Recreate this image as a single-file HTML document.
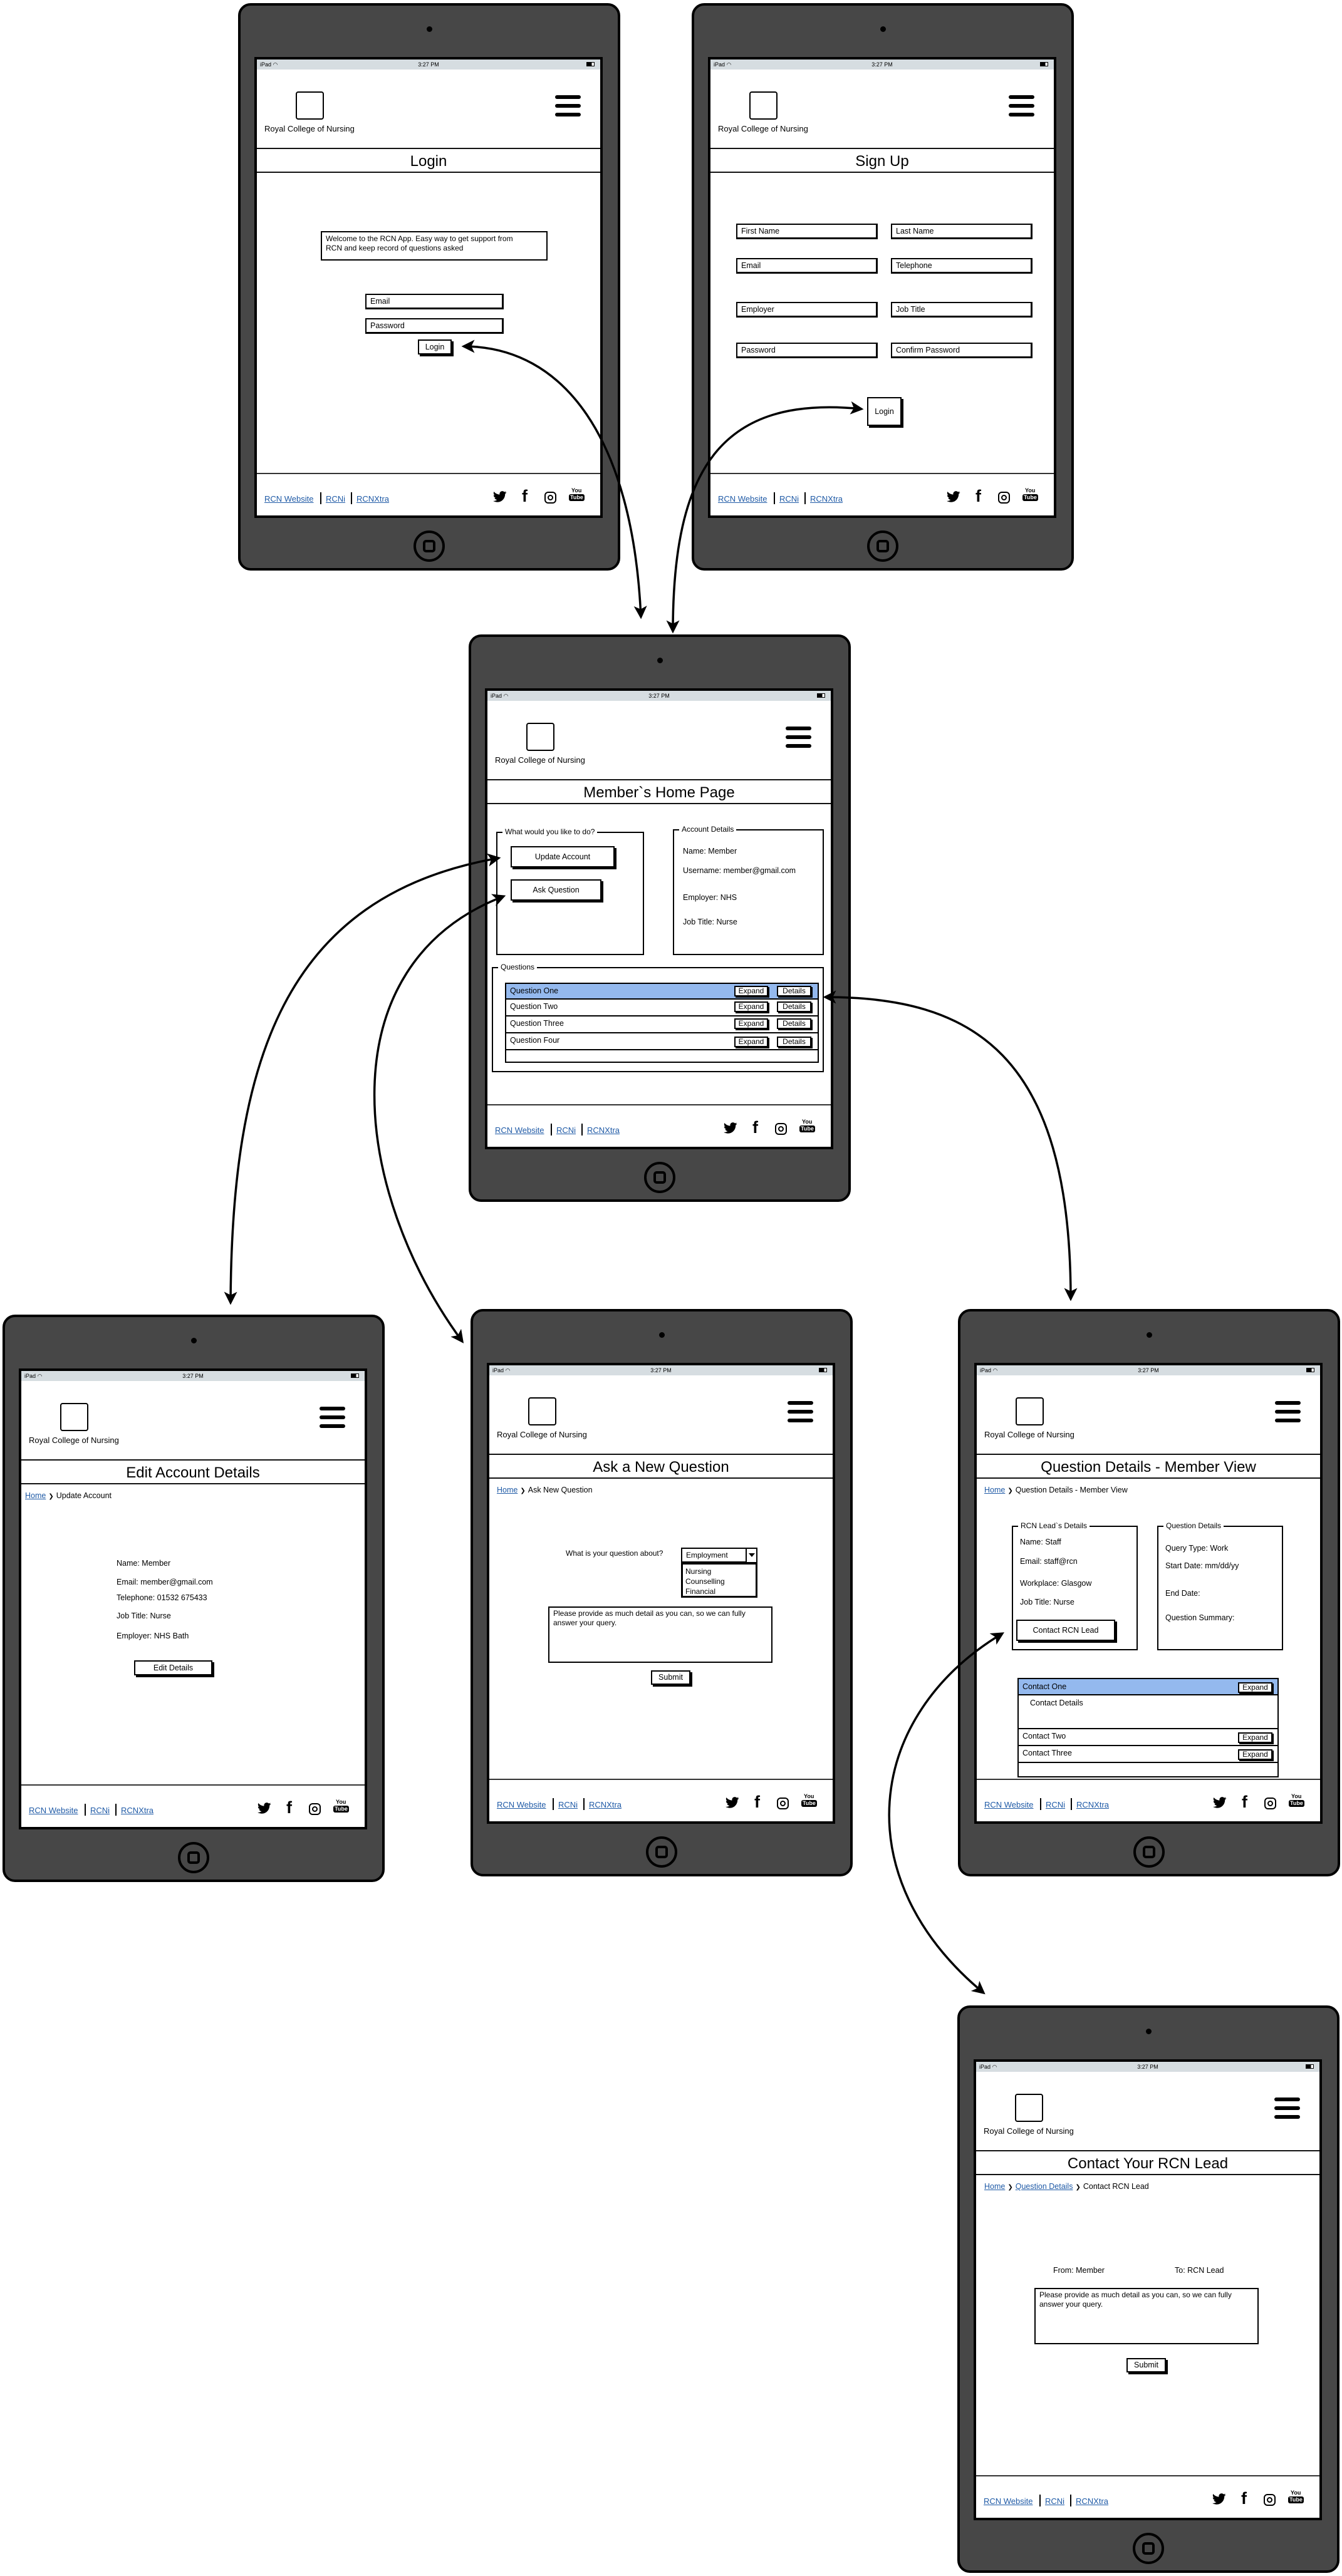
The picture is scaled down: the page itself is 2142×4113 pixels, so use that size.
<!DOCTYPE html>
<html><head><meta charset="utf-8">
<style>
html,body{margin:0;padding:0;background:#fff}
body{width:2142px;height:4113px;position:relative;overflow:hidden;font-family:"Liberation Sans",Arial,sans-serif;color:#000}
.t{position:absolute;width:610px;height:906px}
.t>*{position:absolute}
.fr{left:0;top:0;width:610px;height:906px;box-sizing:border-box;border:4px solid #000;border-radius:20px;background:#474747}
.cam{left:301px;top:37px;width:9px;height:9px;border-radius:50%;background:#000}
.scr{left:26px;top:86px;width:556px;height:736px;box-sizing:border-box;border:4px solid #000;background:#fff}
.sb{left:30px;top:90px;width:548px;height:16px;background:#d6dde1}
.sbl{left:35px;top:91px;font-size:9px;line-height:14px}
.sbt{left:30px;top:91px;width:548px;text-align:center;font-size:9px;line-height:14px}
.bat{left:556px;top:94px;width:11px;height:5px;border:1px solid #000;background:linear-gradient(90deg,#000 70%,#fff 70%)}
.lg{left:92px;top:141px;width:45px;height:45px;box-sizing:border-box;border:2px solid #000;border-radius:4px}
.rcn{left:42px;top:193px;font-size:13px;line-height:16px;white-space:nowrap}
.hm{left:506px;width:41px;height:6px;border-radius:3px;background:#000}
.ln{left:30px;width:548px;height:2px;background:#111}
.ttl{left:30px;top:237px;width:548px;height:32px;line-height:32px;text-align:center;font-size:24px;white-space:nowrap}
.ln2{left:30px;width:548px;height:1.5px;background:#333}
.lk{top:784px;font-size:13px;line-height:16px;color:#1f5aa6;text-decoration:underline;white-space:nowrap}
.sp{top:781px;width:2px;height:19px;background:#000}
.fb{left:453px;top:772px;font-size:27px;font-weight:bold;line-height:30px}
.ig{left:489px;top:780px;width:19px;height:19px;box-sizing:border-box;border:2.5px solid #000;border-radius:6px}
.ig::after{content:"";position:absolute;left:3px;top:3px;width:5px;height:5px;border:2.5px solid #000;border-radius:50%}
.yt1{left:532px;top:773px;font-size:9px;font-weight:bold;line-height:10px}
.yt2{left:528px;top:784px;font-size:9px;font-weight:bold;line-height:11px;background:#000;color:#fff;padding:0 2px;border-radius:3px}
.hb{left:280px;top:842px;width:50px;height:50px;box-sizing:border-box;border:4px solid #000;border-radius:50%}
.hbi{left:295px;top:857px;width:20px;height:20px;box-sizing:border-box;border:4px solid #000;border-radius:5px}
.tx{font-size:12.5px;line-height:16px;white-space:nowrap}
.bt{box-sizing:border-box;border:2px solid #000;box-shadow:3px 3px 0 #000;background:#fff;text-align:center;font-size:12.5px;white-space:nowrap}
.in{box-sizing:border-box;border:2px solid #000;border-right-width:3px;border-bottom-width:3px;font-size:12.5px;padding-left:6px;white-space:nowrap;background:#fff}
.fs{box-sizing:border-box;border:2px solid #000}
.lgd{position:absolute;top:-10px;left:8px;background:#fff;padding:0 4px;font-size:12px;line-height:16px;white-space:nowrap}
.bc{left:36px;font-size:12.5px;line-height:16px;white-space:nowrap}
.bc u{color:#1f5aa6}
.bc b{font-family:"DejaVu Sans",sans-serif;font-size:10px;margin:0 4px}
.row{box-sizing:border-box;border:2px solid #000;border-top:none;font-size:12.5px;white-space:nowrap;padding-left:6px;background:#fff}
.sm{position:absolute;top:3px;height:17px;box-sizing:border-box;border:2px solid #000;box-shadow:2px 2px 0 #000;font-size:12px;line-height:13px;text-align:center;background:#fff}
</style></head><body>

<!-- LOGIN -->
<div class="t" style="left:380px;top:5px">
<div class="fr"></div><div class="cam"></div><div class="scr"></div><div class="sb"></div><div class="sbl">iPad ◠</div><div class="sbt">3:27 PM</div><div class="bat"></div><div class="lg"></div><div class="rcn">Royal College of Nursing</div><div class="hm" style="top:147px"></div><div class="hm" style="top:161px"></div><div class="hm" style="top:175px"></div><div class="ln" style="top:231px"></div><div class="ln" style="top:269px"></div>
<div class="ttl">Login</div>
<div class="ln2" style="top:750px"></div><div class="lk" style="left:42px">RCN Website</div><div class="sp" style="left:131px"></div><div class="lk" style="left:140px">RCNi</div><div class="sp" style="left:180px"></div><div class="lk" style="left:189px">RCNXtra</div>
<svg style="left:407px;top:779px" width="22" height="18" viewBox="0 0 24 20"><path d="M23.5 2.4c-.9.4-1.8.6-2.8.8 1-.6 1.8-1.6 2.100-2.700-.9.6-2 1-3.100 1.200C18.800.7 17.600.2 16.200.2c-2.700 0-4.900 2.200-4.900 4.900 0 .4 0 .8.1 1.100C7.400 6 3.800 4.100 1.400 1.100 1 1.800.7 2.700.7 3.600c0 1.700.9 3.200 2.200 4.100-.8 0-1.600-.2-2.200-.6v.1c0 2.400 1.700 4.400 3.900 4.800-.4.1-.8.2-1.300.2-.3 0-.6 0-.9-.1.6 1.900 2.400 3.400 4.600 3.400-1.700 1.300-3.800 2.100-6.100 2.100-.4 0-.8 0-1.200-.1 2.200 1.400 4.800 2.200 7.500 2.200 9 0 13.900-7.500 13.900-13.900v-.6c1-.7 1.800-1.600 2.400-2.600z"/></svg>
<div class="fb">f</div><div class="ig"></div><div class="yt1">You</div><div class="yt2">Tube</div>
<div class="hb"></div><div class="hbi"></div>
<div class="fs" style="left:132px;top:364px;width:362px;height:47px"></div>
<div class="tx" style="left:140px;top:369px;font-size:12px;line-height:15px">Welcome to the RCN App. Easy way to get support from<br>RCN and keep record of questions asked</div>
<div class="in" style="left:203px;top:464px;width:221px;height:25px;line-height:20px">Email</div>
<div class="in" style="left:203px;top:503px;width:221px;height:25px;line-height:20px">Password</div>
<div class="bt" style="left:287px;top:537px;width:54px;height:24px;line-height:20px">Login</div>
</div>

<!-- SIGN UP -->
<div class="t" style="left:1104px;top:5px">
<div class="fr"></div><div class="cam"></div><div class="scr"></div><div class="sb"></div><div class="sbl">iPad ◠</div><div class="sbt">3:27 PM</div><div class="bat"></div><div class="lg"></div><div class="rcn">Royal College of Nursing</div><div class="hm" style="top:147px"></div><div class="hm" style="top:161px"></div><div class="hm" style="top:175px"></div><div class="ln" style="top:231px"></div><div class="ln" style="top:269px"></div>
<div class="ttl">Sign Up</div>
<div class="ln2" style="top:750px"></div><div class="lk" style="left:42px">RCN Website</div><div class="sp" style="left:131px"></div><div class="lk" style="left:140px">RCNi</div><div class="sp" style="left:180px"></div><div class="lk" style="left:189px">RCNXtra</div>
<svg style="left:407px;top:779px" width="22" height="18" viewBox="0 0 24 20"><path d="M23.5 2.4c-.9.4-1.8.6-2.8.8 1-.6 1.8-1.6 2.100-2.700-.9.6-2 1-3.100 1.200C18.800.7 17.600.2 16.200.2c-2.700 0-4.900 2.200-4.900 4.900 0 .4 0 .8.1 1.100C7.400 6 3.800 4.100 1.400 1.100 1 1.800.7 2.700.7 3.600c0 1.700.9 3.200 2.200 4.100-.8 0-1.600-.2-2.200-.6v.1c0 2.400 1.700 4.400 3.900 4.800-.4.1-.8.2-1.300.2-.3 0-.6 0-.9-.1.6 1.900 2.400 3.400 4.600 3.400-1.700 1.300-3.800 2.100-6.100 2.100-.4 0-.8 0-1.200-.1 2.200 1.400 4.800 2.200 7.500 2.200 9 0 13.900-7.500 13.900-13.900v-.6c1-.7 1.800-1.600 2.400-2.600z"/></svg>
<div class="fb">f</div><div class="ig"></div><div class="yt1">You</div><div class="yt2">Tube</div>
<div class="hb"></div><div class="hbi"></div>
<div class="in" style="left:71px;top:352px;width:226px;height:25px;line-height:20px">First Name</div>
<div class="in" style="left:318px;top:352px;width:226px;height:25px;line-height:20px">Last Name</div>
<div class="in" style="left:71px;top:407px;width:226px;height:25px;line-height:20px">Email</div>
<div class="in" style="left:318px;top:407px;width:226px;height:25px;line-height:20px">Telephone</div>
<div class="in" style="left:71px;top:477px;width:226px;height:25px;line-height:20px">Employer</div>
<div class="in" style="left:318px;top:477px;width:226px;height:25px;line-height:20px">Job Title</div>
<div class="in" style="left:71px;top:542px;width:226px;height:25px;line-height:20px">Password</div>
<div class="in" style="left:318px;top:542px;width:226px;height:25px;line-height:20px">Confirm Password</div>
<div class="bt" style="left:280px;top:629px;width:55px;height:46px;line-height:42px">Login</div>
</div>

<!-- HOME -->
<div class="t" style="left:748px;top:1013px">
<div class="fr"></div><div class="cam"></div><div class="scr"></div><div class="sb"></div><div class="sbl">iPad ◠</div><div class="sbt">3:27 PM</div><div class="bat"></div><div class="lg"></div><div class="rcn">Royal College of Nursing</div><div class="hm" style="top:147px"></div><div class="hm" style="top:161px"></div><div class="hm" style="top:175px"></div><div class="ln" style="top:231px"></div><div class="ln" style="top:269px"></div>
<div class="ttl">Member`s Home Page</div>
<div class="ln2" style="top:750px"></div><div class="lk" style="left:42px">RCN Website</div><div class="sp" style="left:131px"></div><div class="lk" style="left:140px">RCNi</div><div class="sp" style="left:180px"></div><div class="lk" style="left:189px">RCNXtra</div>
<svg style="left:407px;top:779px" width="22" height="18" viewBox="0 0 24 20"><path d="M23.5 2.4c-.9.4-1.8.6-2.8.8 1-.6 1.8-1.6 2.100-2.700-.9.6-2 1-3.100 1.200C18.800.7 17.600.2 16.200.2c-2.700 0-4.900 2.200-4.900 4.900 0 .4 0 .8.1 1.100C7.400 6 3.800 4.100 1.400 1.100 1 1.800.7 2.700.7 3.600c0 1.700.9 3.200 2.200 4.100-.8 0-1.600-.2-2.200-.6v.1c0 2.400 1.700 4.400 3.900 4.800-.4.1-.8.2-1.300.2-.3 0-.6 0-.9-.1.6 1.900 2.400 3.400 4.600 3.400-1.700 1.300-3.800 2.100-6.100 2.100-.4 0-.8 0-1.200-.1 2.200 1.400 4.800 2.200 7.500 2.200 9 0 13.900-7.500 13.900-13.900v-.6c1-.7 1.800-1.600 2.400-2.600z"/></svg>
<div class="fb">f</div><div class="ig"></div><div class="yt1">You</div><div class="yt2">Tube</div>
<div class="hb"></div><div class="hbi"></div>
<div class="fs" style="left:44px;top:315px;width:236px;height:197px"><span class="lgd">What would you like to do?</span></div>
<div class="bt" style="left:67px;top:338px;width:166px;height:34px;line-height:30px">Update Account</div>
<div class="bt" style="left:67px;top:391px;width:145px;height:34px;line-height:30px">Ask Question</div>
<div class="fs" style="left:326px;top:311px;width:241px;height:201px"><span class="lgd">Account Details</span></div>
<div class="tx" style="left:342px;top:338px">Name: Member</div>
<div class="tx" style="left:342px;top:369px">Username: member@gmail.com</div>
<div class="tx" style="left:342px;top:412px">Employer: NHS</div>
<div class="tx" style="left:342px;top:451px">Job Title: Nurse</div>
<div class="fs" style="left:37px;top:531px;width:530px;height:168px"><span class="lgd">Questions</span></div>
<div class="row" style="left:58px;top:556px;width:501px;height:27px;line-height:23px;border-top:2px solid #000;background:#94b9ee">Question One<span class="sm" style="left:364px;width:54px">Expand</span><span class="sm" style="left:432px;width:55px">Details</span></div>
<div class="row" style="left:58px;top:583px;width:501px;height:27px;line-height:23px">Question Two<span class="sm" style="left:364px;width:54px">Expand</span><span class="sm" style="left:432px;width:55px">Details</span></div>
<div class="row" style="left:58px;top:610px;width:501px;height:27px;line-height:23px">Question Three<span class="sm" style="left:364px;width:54px">Expand</span><span class="sm" style="left:432px;width:55px">Details</span></div>
<div class="row" style="left:58px;top:637px;width:501px;height:27px;line-height:23px">Question Four<span class="sm" style="left:364px;width:54px;top:5px">Expand</span><span class="sm" style="left:432px;width:55px;top:5px">Details</span></div>
<div class="row" style="left:58px;top:664px;width:501px;height:20px"></div>
</div>

<!-- EDIT -->
<div class="t" style="left:4px;top:2099px">
<div class="fr"></div><div class="cam"></div><div class="scr"></div><div class="sb"></div><div class="sbl">iPad ◠</div><div class="sbt">3:27 PM</div><div class="bat"></div><div class="lg"></div><div class="rcn">Royal College of Nursing</div><div class="hm" style="top:147px"></div><div class="hm" style="top:161px"></div><div class="hm" style="top:175px"></div><div class="ln" style="top:231px"></div><div class="ln" style="top:269px"></div>
<div class="ttl">Edit Account Details</div>
<div class="ln2" style="top:750px"></div><div class="lk" style="left:42px">RCN Website</div><div class="sp" style="left:131px"></div><div class="lk" style="left:140px">RCNi</div><div class="sp" style="left:180px"></div><div class="lk" style="left:189px">RCNXtra</div>
<svg style="left:407px;top:779px" width="22" height="18" viewBox="0 0 24 20"><path d="M23.5 2.4c-.9.4-1.8.6-2.8.8 1-.6 1.8-1.6 2.100-2.700-.9.6-2 1-3.100 1.200C18.800.7 17.600.2 16.200.2c-2.700 0-4.900 2.200-4.900 4.900 0 .4 0 .8.1 1.100C7.400 6 3.800 4.100 1.400 1.100 1 1.800.7 2.700.7 3.600c0 1.700.9 3.200 2.200 4.100-.8 0-1.600-.2-2.200-.6v.1c0 2.400 1.700 4.400 3.900 4.800-.4.1-.8.2-1.300.2-.3 0-.6 0-.9-.1.6 1.900 2.400 3.400 4.600 3.400-1.700 1.300-3.800 2.100-6.100 2.100-.4 0-.8 0-1.200-.1 2.200 1.400 4.800 2.200 7.500 2.200 9 0 13.900-7.500 13.900-13.900v-.6c1-.7 1.800-1.600 2.400-2.600z"/></svg>
<div class="fb">f</div><div class="ig"></div><div class="yt1">You</div><div class="yt2">Tube</div>
<div class="hb"></div><div class="hbi"></div>
<div class="bc" style="top:281px"><u>Home</u><b>❯</b>Update Account</div>
<div class="tx" style="left:182px;top:389px">Name: Member</div>
<div class="tx" style="left:182px;top:419px">Email: member@gmail.com</div>
<div class="tx" style="left:182px;top:444px">Telephone: 01532 675433</div>
<div class="tx" style="left:182px;top:473px">Job Title: Nurse</div>
<div class="tx" style="left:182px;top:505px">Employer: NHS Bath</div>
<div class="bt" style="left:210px;top:552px;width:125px;height:24px;line-height:20px">Edit Details</div>
</div>

<!-- ASK -->
<div class="t" style="left:751px;top:2090px">
<div class="fr"></div><div class="cam"></div><div class="scr"></div><div class="sb"></div><div class="sbl">iPad ◠</div><div class="sbt">3:27 PM</div><div class="bat"></div><div class="lg"></div><div class="rcn">Royal College of Nursing</div><div class="hm" style="top:147px"></div><div class="hm" style="top:161px"></div><div class="hm" style="top:175px"></div><div class="ln" style="top:231px"></div><div class="ln" style="top:269px"></div>
<div class="ttl">Ask a New Question</div>
<div class="ln2" style="top:750px"></div><div class="lk" style="left:42px">RCN Website</div><div class="sp" style="left:131px"></div><div class="lk" style="left:140px">RCNi</div><div class="sp" style="left:180px"></div><div class="lk" style="left:189px">RCNXtra</div>
<svg style="left:407px;top:779px" width="22" height="18" viewBox="0 0 24 20"><path d="M23.5 2.4c-.9.4-1.8.6-2.8.8 1-.6 1.8-1.6 2.100-2.700-.9.6-2 1-3.100 1.200C18.800.7 17.600.2 16.200.2c-2.700 0-4.900 2.200-4.900 4.900 0 .4 0 .8.1 1.100C7.400 6 3.800 4.100 1.400 1.100 1 1.800.7 2.700.7 3.600c0 1.700.9 3.200 2.200 4.100-.8 0-1.600-.2-2.200-.6v.1c0 2.400 1.700 4.400 3.900 4.800-.4.1-.8.2-1.300.2-.3 0-.6 0-.9-.1.6 1.900 2.400 3.400 4.600 3.400-1.700 1.300-3.800 2.100-6.100 2.100-.4 0-.8 0-1.200-.1 2.200 1.400 4.800 2.200 7.500 2.200 9 0 13.900-7.500 13.900-13.900v-.6c1-.7 1.800-1.600 2.400-2.600z"/></svg>
<div class="fb">f</div><div class="ig"></div><div class="yt1">You</div><div class="yt2">Tube</div>
<div class="hb"></div><div class="hbi"></div>
<div class="bc" style="top:281px;left:42px"><u>Home</u><b>❯</b>Ask New Question</div>
<div class="tx" style="left:152px;top:382px;font-size:12px">What is your question about?</div>
<div class="in" style="left:336px;top:381px;width:122px;height:25px;line-height:20px;font-size:12px;border-right-width:2px">Employment</div>
<div style="left:439px;top:381px;width:19px;height:25px;box-sizing:border-box;border:2px solid #000;background:#fff"><div style="position:absolute;left:3px;top:7px;width:0;height:0;border-left:5px solid transparent;border-right:5px solid transparent;border-top:6px solid #000"></div></div>
<div style="left:336px;top:405px;width:122px;height:56px;box-sizing:border-box;border:3px solid #000;background:#fff;font-size:12px;line-height:16px;padding:3px 0 0 4px">Nursing<br>Counselling<br>Financial</div>
<div class="fs" style="left:124px;top:475px;width:358px;height:90px"></div>
<div class="tx" style="left:132px;top:479px;font-size:12px;line-height:15px">Please provide as much detail as you can, so we can fully<br>answer your query.</div>
<div class="bt" style="left:288px;top:577px;width:63px;height:23px;line-height:19px">Submit</div>
</div>

<!-- QUESTION DETAILS -->
<div class="t" style="left:1529px;top:2090px">
<div class="fr"></div><div class="cam"></div><div class="scr"></div><div class="sb"></div><div class="sbl">iPad ◠</div><div class="sbt">3:27 PM</div><div class="bat"></div><div class="lg"></div><div class="rcn">Royal College of Nursing</div><div class="hm" style="top:147px"></div><div class="hm" style="top:161px"></div><div class="hm" style="top:175px"></div><div class="ln" style="top:231px"></div><div class="ln" style="top:269px"></div>
<div class="ttl">Question Details - Member View</div>
<div class="ln2" style="top:750px"></div><div class="lk" style="left:42px">RCN Website</div><div class="sp" style="left:131px"></div><div class="lk" style="left:140px">RCNi</div><div class="sp" style="left:180px"></div><div class="lk" style="left:189px">RCNXtra</div>
<svg style="left:407px;top:779px" width="22" height="18" viewBox="0 0 24 20"><path d="M23.5 2.4c-.9.4-1.8.6-2.8.8 1-.6 1.8-1.6 2.100-2.700-.9.6-2 1-3.100 1.200C18.800.7 17.600.2 16.200.2c-2.700 0-4.900 2.200-4.900 4.900 0 .4 0 .8.1 1.100C7.400 6 3.800 4.100 1.400 1.100 1 1.800.7 2.700.7 3.600c0 1.700.9 3.200 2.200 4.100-.8 0-1.600-.2-2.200-.6v.1c0 2.400 1.700 4.400 3.900 4.800-.4.1-.8.2-1.300.2-.3 0-.6 0-.9-.1.6 1.900 2.400 3.400 4.600 3.400-1.700 1.300-3.800 2.100-6.100 2.100-.4 0-.8 0-1.200-.1 2.200 1.400 4.800 2.200 7.500 2.200 9 0 13.900-7.500 13.900-13.900v-.6c1-.7 1.800-1.600 2.400-2.600z"/></svg>
<div class="fb">f</div><div class="ig"></div><div class="yt1">You</div><div class="yt2">Tube</div>
<div class="hb"></div><div class="hbi"></div>
<div class="bc" style="top:281px;left:42px"><u>Home</u><b>❯</b>Question Details - Member View</div>
<div class="fs" style="left:86px;top:346px;width:201px;height:199px"><span class="lgd">RCN Lead`s Details</span></div>
<div class="tx" style="left:99px;top:364px">Name: Staff</div>
<div class="tx" style="left:99px;top:395px">Email: staff@rcn</div>
<div class="tx" style="left:99px;top:430px">Workplace: Glasgow</div>
<div class="tx" style="left:99px;top:460px">Job Title: Nurse</div>
<div class="bt" style="left:93px;top:496px;width:158px;height:34px;line-height:30px">Contact RCN Lead</div>
<div class="fs" style="left:318px;top:346px;width:201px;height:199px"><span class="lgd">Question Details</span></div>
<div class="tx" style="left:331px;top:374px">Query Type: Work</div>
<div class="tx" style="left:331px;top:402px">Start Date: mm/dd/yy</div>
<div class="tx" style="left:331px;top:446px">End Date:</div>
<div class="tx" style="left:331px;top:485px">Question Summary:</div>
<div class="row" style="left:95px;top:589px;width:417px;height:28px;line-height:24px;border-top:2px solid #000;background:#94b9ee">Contact One<span class="sm" style="left:350px;width:55px;top:5px">Expand</span></div>
<div class="row" style="left:95px;top:617px;width:417px;height:54px;padding-left:18px;line-height:24px">Contact Details</div>
<div class="row" style="left:95px;top:671px;width:417px;height:27px;line-height:23px">Contact Two<span class="sm" style="left:350px;width:55px;top:5px">Expand</span></div>
<div class="row" style="left:95px;top:698px;width:417px;height:27px;line-height:23px">Contact Three<span class="sm" style="left:350px;width:55px;top:5px">Expand</span></div>
<div class="row" style="left:95px;top:725px;width:417px;height:23px"></div>
</div>

<!-- CONTACT -->
<div class="t" style="left:1528px;top:3202px">
<div class="fr"></div><div class="cam"></div><div class="scr"></div><div class="sb"></div><div class="sbl">iPad ◠</div><div class="sbt">3:27 PM</div><div class="bat"></div><div class="lg"></div><div class="rcn">Royal College of Nursing</div><div class="hm" style="top:147px"></div><div class="hm" style="top:161px"></div><div class="hm" style="top:175px"></div><div class="ln" style="top:231px"></div><div class="ln" style="top:269px"></div>
<div class="ttl">Contact Your RCN Lead</div>
<div class="ln2" style="top:750px"></div><div class="lk" style="left:42px">RCN Website</div><div class="sp" style="left:131px"></div><div class="lk" style="left:140px">RCNi</div><div class="sp" style="left:180px"></div><div class="lk" style="left:189px">RCNXtra</div>
<svg style="left:407px;top:779px" width="22" height="18" viewBox="0 0 24 20"><path d="M23.5 2.4c-.9.4-1.8.6-2.8.8 1-.6 1.8-1.6 2.100-2.700-.9.6-2 1-3.100 1.200C18.800.7 17.600.2 16.200.2c-2.700 0-4.900 2.200-4.900 4.900 0 .4 0 .8.1 1.100C7.400 6 3.800 4.100 1.400 1.100 1 1.800.7 2.700.7 3.600c0 1.700.9 3.200 2.200 4.100-.8 0-1.600-.2-2.200-.6v.1c0 2.400 1.700 4.400 3.900 4.800-.4.1-.8.2-1.300.2-.3 0-.6 0-.9-.1.6 1.900 2.400 3.400 4.600 3.400-1.700 1.300-3.800 2.100-6.100 2.100-.4 0-.8 0-1.200-.1 2.200 1.400 4.800 2.200 7.500 2.200 9 0 13.900-7.500 13.900-13.900v-.6c1-.7 1.800-1.600 2.400-2.600z"/></svg>
<div class="fb">f</div><div class="ig"></div><div class="yt1">You</div><div class="yt2">Tube</div>
<div class="hb"></div><div class="hbi"></div>
<div class="bc" style="top:281px;left:43px"><u>Home</u><b>❯</b><u>Question Details</u><b>❯</b>Contact RCN Lead</div>
<div class="tx" style="left:153px;top:415px">From: Member</div>
<div class="tx" style="left:347px;top:415px">To: RCN Lead</div>
<div class="fs" style="left:123px;top:451px;width:358px;height:90px"></div>
<div class="tx" style="left:131px;top:455px;font-size:12px;line-height:15px">Please provide as much detail as you can, so we can fully<br>answer your query.</div>
<div class="bt" style="left:270px;top:563px;width:63px;height:23px;line-height:19px">Submit</div>
</div>

<!-- CONNECTORS -->
<svg style="position:absolute;left:0;top:0" width="2142" height="4113" viewBox="0 0 2142 4113">
<defs><marker id="a" viewBox="0 0 12 12" refX="10" refY="6" markerWidth="6" markerHeight="6" orient="auto-start-reverse" markerUnits="strokeWidth"><path d="M0 0 L12 6 L0 12 L3 6 z" fill="#000"/></marker></defs>
<g fill="none" stroke="#000" stroke-width="3.5" marker-start="url(#a)" marker-end="url(#a)">
<path d="M740 553 C900 553 1010 700 1023 985"/>
<path d="M1074 1008 C1074 750 1150 630 1375 653"/>
<path d="M796 1370 C450 1430 370 1700 368 2080"/>
<path d="M804 1431 C520 1540 560 1900 738 2142"/>
<path d="M1317 1592 C1550 1592 1709 1680 1709 2074"/>
<path d="M1600 2608 C1380 2740 1350 3000 1570 3182"/>
</g>
</svg>
</body></html>
